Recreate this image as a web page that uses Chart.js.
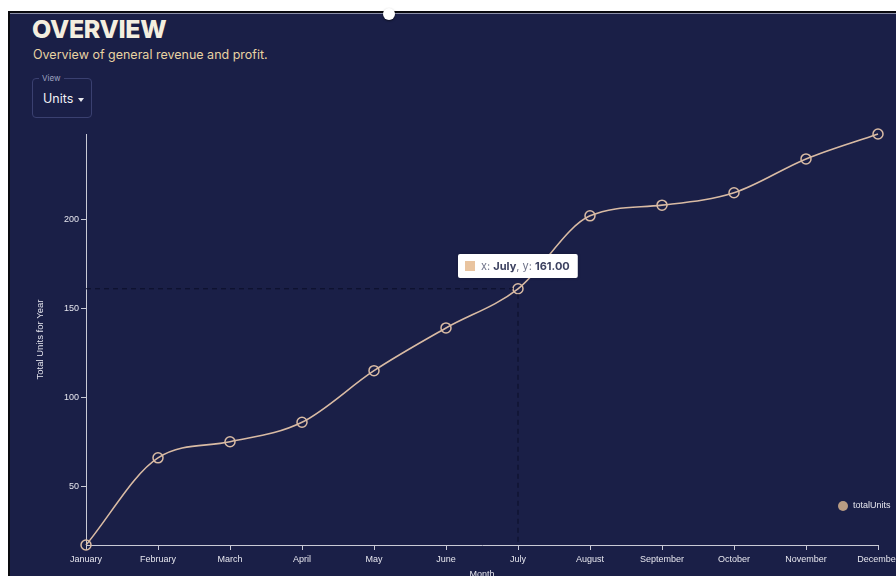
<!DOCTYPE html>
<html>
<head>
<meta charset="utf-8">
<script src="https://cdn.jsdelivr.net/npm/chart.js@4.4.1/dist/chart.umd.min.js"></script>
<style>
    html, body { margin: 0; padding: 0; width: 896px; height: 576px; overflow: hidden; background: #fff; }
    .frame {
        position: absolute; left: 8px; top: 11px; width: 900px; height: 580px;
        background: #1a1f47;
        border-left: 2px solid #0a0a0f; border-top: 2px solid #0a0a0f;
        box-shadow: inset 0 1px 0 #8a8ea8;
    }
    .knob {
        position: absolute; left: 383px; top: 8px; width: 12px; height: 12px; border-radius: 50%;
        background: #fff; box-shadow: 0 1px 2px rgba(0,0,0,0.5); z-index: 3;
    }
    h1 {
        position: absolute; left: 32px; top: 14px; margin: 0;
        font: 800 25px Inter, sans-serif; color: #f4eedf; letter-spacing: -0.3px;
    }
    .sub {
        position: absolute; left: 33px; top: 47px;
        font: 400 12.5px Inter, sans-serif; color: #e8d2a2;
    }
    .select {
        position: absolute; left: 32px; top: 78px; width: 60px; height: 40px;
        border: 1px solid #3a4070; border-radius: 4px; box-sizing: border-box;
    }
    .select .lbl {
        position: absolute; left: 6px; top: -6px; padding: 0 3px; background: #1a1f47;
        font: 400 8px Inter, sans-serif; color: #9ea3c0;
    }
    .select .val {
        position: absolute; left: 10px; top: 12px;
        font: 400 12.5px Inter, sans-serif; color: #f2f2f6;
    }
    .select .caret {
        position: absolute; left: 45px; top: 19px; width: 0; height: 0;
        border-left: 3.5px solid transparent; border-right: 3.5px solid transparent; border-top: 4px solid #e8e8ee;
    }
    #wrap { position: absolute; left: 0; top: 0; width: 940px; height: 600px; z-index: 2; }
</style>
</head>
<body>
<div class="frame"></div>
<div class="knob"></div>
<h1>OVERVIEW</h1>
<div class="sub">Overview of general revenue and profit.</div>
<div class="select">
    <span class="lbl">View</span>
    <span class="val">Units</span>
    <span class="caret"></span>
</div>
<div id="wrap"><canvas id="unitsChart" width="940" height="600"></canvas></div>

<script>
// data
const months = ['January', 'February', 'March', 'April', 'May', 'June', 'July',
                'August', 'September', 'October', 'November', 'December'];
const totalUnits = [17, 66, 75, 86, 115, 139, 161, 202, 208, 215, 234, 248];
const yTicks = [50, 100, 150, 200];
const seriesName = 'totalUnits';
const hoverIndex = 6; // July

const LINE = '#d9bba4';
const AXIS = '#c9cad6';
const TEXT = '#e6e6ee';
const SANS = '"Liberation Sans", Arial, sans-serif';

// crosshair + tooltip for the hovered point
const hoverPlugin = {
    id: 'hoverPlugin',
    afterDatasetsDraw(chart) {
        const { ctx, chartArea } = chart;
        const pt = chart.getDatasetMeta(0).data[hoverIndex];
        ctx.save();
        ctx.strokeStyle = '#0b0e28';
        ctx.lineWidth = 1;
        ctx.setLineDash([5, 4]);
        ctx.beginPath();
        ctx.moveTo(chartArea.left, pt.y);
        ctx.lineTo(pt.x - 5, pt.y);
        ctx.moveTo(pt.x, pt.y + 5);
        ctx.lineTo(pt.x, chartArea.bottom);
        ctx.stroke();
        ctx.setLineDash([]);

        const parts = [
            ['x: ', false], [months[hoverIndex], true],
            [', y: ', false], [totalUnits[hoverIndex].toFixed(2), true],
        ];
        let textW = 0;
        parts.forEach(p => {
            ctx.font = (p[1] ? '700 ' : '400 ') + '11px Inter, sans-serif';
            textW += ctx.measureText(p[0]).width;
        });
        const w = 7 + 10 + 6 + textW + 8;
        const h = 24;
        const bx = Math.round(pt.x - w / 2);
        const by = Math.round(pt.y - 11 - h);
        ctx.shadowColor = 'rgba(0,0,0,0.25)';
        ctx.shadowBlur = 3;
        ctx.fillStyle = '#ffffff';
        ctx.beginPath();
        ctx.roundRect(bx, by, w, h, 2);
        ctx.fill();
        ctx.shadowBlur = 0;
        ctx.fillStyle = '#e9c49f';
        ctx.fillRect(bx + 7, by + 7, 10, 10);
        let tx = bx + 7 + 10 + 6;
        ctx.textBaseline = 'middle';
        parts.forEach(p => {
            ctx.font = (p[1] ? '700 ' : '400 ') + '11px Inter, sans-serif';
            ctx.fillStyle = p[1] ? '#3d4260' : '#6f7389';
            ctx.fillText(p[0], tx, by + h / 2 + 0.5);
            tx += ctx.measureText(p[0]).width;
        });
        ctx.restore();
    },
};

// small legend at the bottom right of the plot
const legendPlugin = {
    id: 'legendPlugin',
    afterDraw(chart) {
        const { ctx, chartArea } = chart;
        const x = chartArea.right - 35;
        const y = chartArea.bottom - 39;
        ctx.save();
        ctx.fillStyle = '#b99c83';
        ctx.beginPath();
        ctx.arc(x, y, 5, 0, Math.PI * 2);
        ctx.fill();
        ctx.fillStyle = TEXT;
        ctx.font = '9px ' + SANS;
        ctx.textBaseline = 'middle';
        ctx.fillText(seriesName, x + 10, y);
        ctx.restore();
    },
};

new Chart(document.getElementById('unitsChart').getContext('2d'), {
    type: 'line',
    data: {
        labels: months,
        datasets: [{
            label: seriesName,
            data: totalUnits,
            borderColor: LINE,
            borderWidth: 1.6,
            cubicInterpolationMode: 'monotone',
            pointRadius: 5,
            pointBorderWidth: 1.5,
            pointBorderColor: LINE,
            pointBackgroundColor: 'rgba(0,0,0,0)',
            clip: false,
        }],
    },
    options: {
        responsive: false,
        animation: false,
        layout: { padding: { left: 31, top: 134, right: 62, bottom: 16 } },
        plugins: { legend: { display: false }, tooltip: { enabled: false } },
        scales: {
            x: {
                offset: false,
                afterFit: s => { s.height = 39; },
                border: { color: AXIS, width: 1 },
                grid: { drawOnChartArea: false, color: AXIS, tickLength: 5 },
                ticks: { color: TEXT, font: { family: SANS, size: 9 }, padding: 4, maxRotation: 0, autoSkip: false },
                title: { display: true, text: 'Month', color: TEXT, font: { family: SANS, size: 9 }, padding: { top: 4, bottom: 4 } },
            },
            y: {
                min: Math.min(...totalUnits),
                max: Math.max(...totalUnits),
                afterFit: s => { s.width = 55; },
                afterBuildTicks: axis => { axis.ticks = yTicks.map(v => ({ value: v })); },
                border: { color: AXIS, width: 1 },
                grid: { drawOnChartArea: false, color: AXIS, tickLength: 5 },
                ticks: { color: TEXT, font: { family: SANS, size: 9 }, padding: 2 },
                title: { display: true, text: 'Total Units for Year', color: TEXT, font: { family: SANS, size: 9.5 }, padding: { top: 4, bottom: 4 } },
            },
        },
    },
    plugins: [hoverPlugin, legendPlugin],
});
</script>
</body>
</html>
